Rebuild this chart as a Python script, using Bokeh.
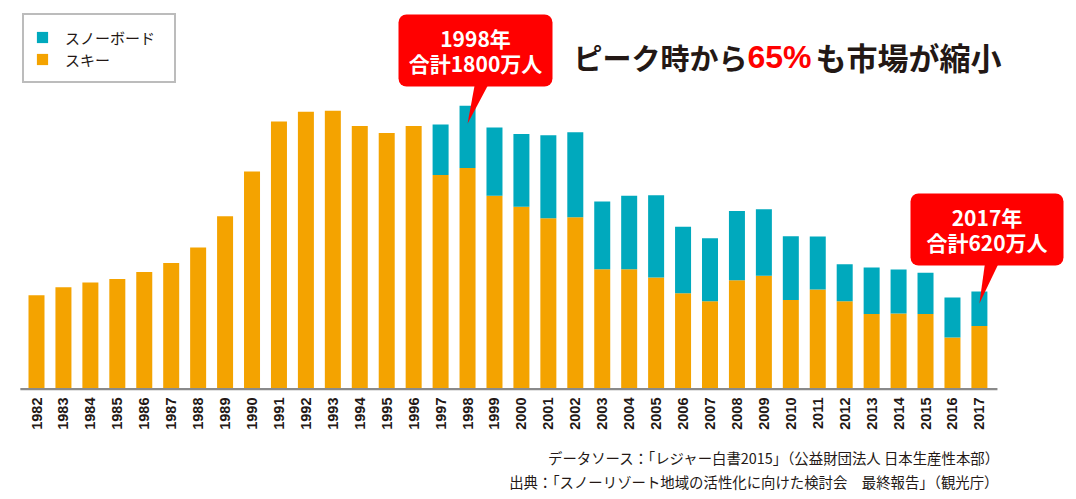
import math
from bokeh.plotting import figure
from bokeh.layouts import column
from bokeh.models import ColumnDataSource, FixedTicker, Legend, LegendItem, Range1d
from bokeh.core.properties import value
from bokeh.embed import file_html
from bokeh.resources import INLINE

# ---- data (万人) ----
years = list(range(1982, 2018))
ski = [596, 647, 677, 700, 744, 801, 899, 1098, 1383, 1700, 1762, 1768, 1671, 1626, 1671,
       1360, 1404, 1229, 1159, 1085, 1091, 761, 761, 709, 609, 558, 692, 721, 567, 633,
       558, 478, 480, 478, 328, 402]
snowboard = [0] * 15 + [321, 396, 433, 461, 527, 540, 430, 468, 522, 423, 400, 439, 421,
                        404, 336, 235, 294, 280, 262, 254, 218]
tick_labels = [str(y) for y in years]
series_names = ["スキー", "スノーボード"]
footnotes = ["データソース：「レジャー白書2015」（公益財団法人 日本生産性本部）",
             "出典：「スノーリゾート地域の活性化に向けた検討会　最終報告」（観光庁）"]

ORANGE = "#F4A300"
TEAL = "#00A9BD"
RED = "#FF0000"
DARK = "#231815"
JP = "Noto Sans CJK JP"

totals = [a + b for a, b in zip(ski, snowboard)]
peak_i = totals.index(max(totals))
last_i = len(years) - 1
decline = int(100 * (1 - totals[last_i] / totals[peak_i]))

# ---- geometry (pixels) ----
W = 1076
FH = 392                 # frame height of main plot
BOT = 42                 # axis area below frame
NOTE_H = 499 - FH - BOT  # footnote strip
PITCH = 26.94
K = totals[peak_i] / 283.5          # units per pixel
BASE = 388.7                         # y of baseline
x_start = years[0] - 36 / PITCH
x_end = x_start + W / PITCH
y_start = -(FH - BASE) * K
y_end = BASE * K

def X(sx):
    return x_start + sx / PITCH

def Y(sy):
    return (BASE - sy) * K

p = figure(width=W, height=FH + BOT, output_backend="svg", toolbar_location=None,
           x_range=Range1d(x_start, x_end), y_range=Range1d(y_start, y_end),
           y_axis_location=None, min_border_left=0, min_border_right=0,
           min_border_top=0, min_border_bottom=BOT)
p.outline_line_color = None
p.grid.visible = False

src = ColumnDataSource(dict(year=years, ski=ski, snow=snowboard))
rs = p.vbar_stack(["ski", "snow"], x="year", width=0.594, color=[ORANGE, TEAL],
                  line_color=None, source=src)

# baseline
p.segment(x0=[years[0] - 0.6], x1=[years[-1] + 0.67], y0=[0], y1=[0],
          line_color="#8a8a8a", line_width=2.2)

ax = p.xaxis[0]
ax.ticker = FixedTicker(ticks=years)
ax.major_label_overrides = {y: t for y, t in zip(years, tick_labels)}
ax.major_label_orientation = math.pi / 2
ax.axis_line_color = None
ax.major_tick_line_color = None
ax.minor_tick_line_color = None
ax.major_tick_out = 0
ax.major_tick_in = 0
ax.major_label_standoff = 5
ax.major_label_text_font = "Liberation Sans"
ax.major_label_text_font_style = "bold"
ax.major_label_text_font_size = "14.5px"
ax.major_label_text_color = DARK

legend = Legend(items=[LegendItem(label=series_names[1], renderers=[rs[1]]),
                       LegendItem(label=series_names[0], renderers=[rs[0]])],
                location=(22, FH - 83), orientation="vertical",
                padding=11, spacing=0, margin=0, glyph_width=14, glyph_height=14,
                label_standoff=16, label_width=98, label_height=22,
                label_text_font=JP, label_text_font_size="15px", label_text_color=DARK,
                border_line_color="#7a7a7a", border_line_width=2,
                background_fill_color="white")
p.add_layout(legend)

# callouts
def callout(i, box_l, box_r, box_t, box_b, base_l, base_r, tip_dy):
    p.quad(left=[X(box_l)], right=[X(box_r)], top=[Y(box_t)], bottom=[Y(box_b)],
           fill_color=RED, line_color=None, border_radius=8)
    tip_x = years[i]
    tip_y = totals[i] - tip_dy * K
    p.patch(x=[X(base_l), X(base_r), tip_x], y=[Y(box_b - 6), Y(box_b - 6), tip_y],
            fill_color=RED, line_color=None)
    cx = X((box_l + box_r) / 2)
    for txt, dy in ((f"{years[i]}年", 23), (f"合計{totals[i]}万人", 48)):
        p.text(x=[cx], y=[Y(box_t + dy)], text=[txt],
               text_font=value(JP), text_font_style="bold", text_font_size="21px",
               text_color="white", text_align="center", text_baseline="middle")

callout(peak_i, 398, 552, 14, 86, 475, 490, 18)
callout(last_i, 910, 1063, 193, 265, 985, 1000, 12)

# headline
ty = Y(56)
p.text(x=[X(573)], y=[ty], text=["ピーク時から"], text_font=value(JP), text_font_style="bold",
       text_font_size="29px", text_color=DARK, text_align="left", text_baseline="middle")
p.text(x=[X(747)], y=[ty], text=[f"{decline}%"], text_font=value("Liberation Sans"),
       text_font_style="bold", text_font_size="32px", text_color=RED,
       text_align="left", text_baseline="middle")
p.text(x=[X(815)], y=[ty], text=["も市場が縮小"], text_font=value(JP), text_font_style="bold",
       text_font_size="31px", text_color=DARK, text_align="left", text_baseline="middle")

# footnote strip
top0 = FH + BOT
q = figure(width=W, height=NOTE_H, output_backend="svg", toolbar_location=None,
           x_range=Range1d(0, W), y_range=Range1d(NOTE_H, 0),
           x_axis_location=None, y_axis_location=None, min_border=0)
q.outline_line_color = None
q.grid.visible = False
q.text(x=[1000, 998], y=[457 - top0, 481 - top0], text=footnotes,
       text_font=value(JP), text_font_size="14.4px", text_color=DARK,
       text_align="right", text_baseline="middle")

open("out.html", "w").write(file_html(column(p, q, spacing=0), INLINE))
